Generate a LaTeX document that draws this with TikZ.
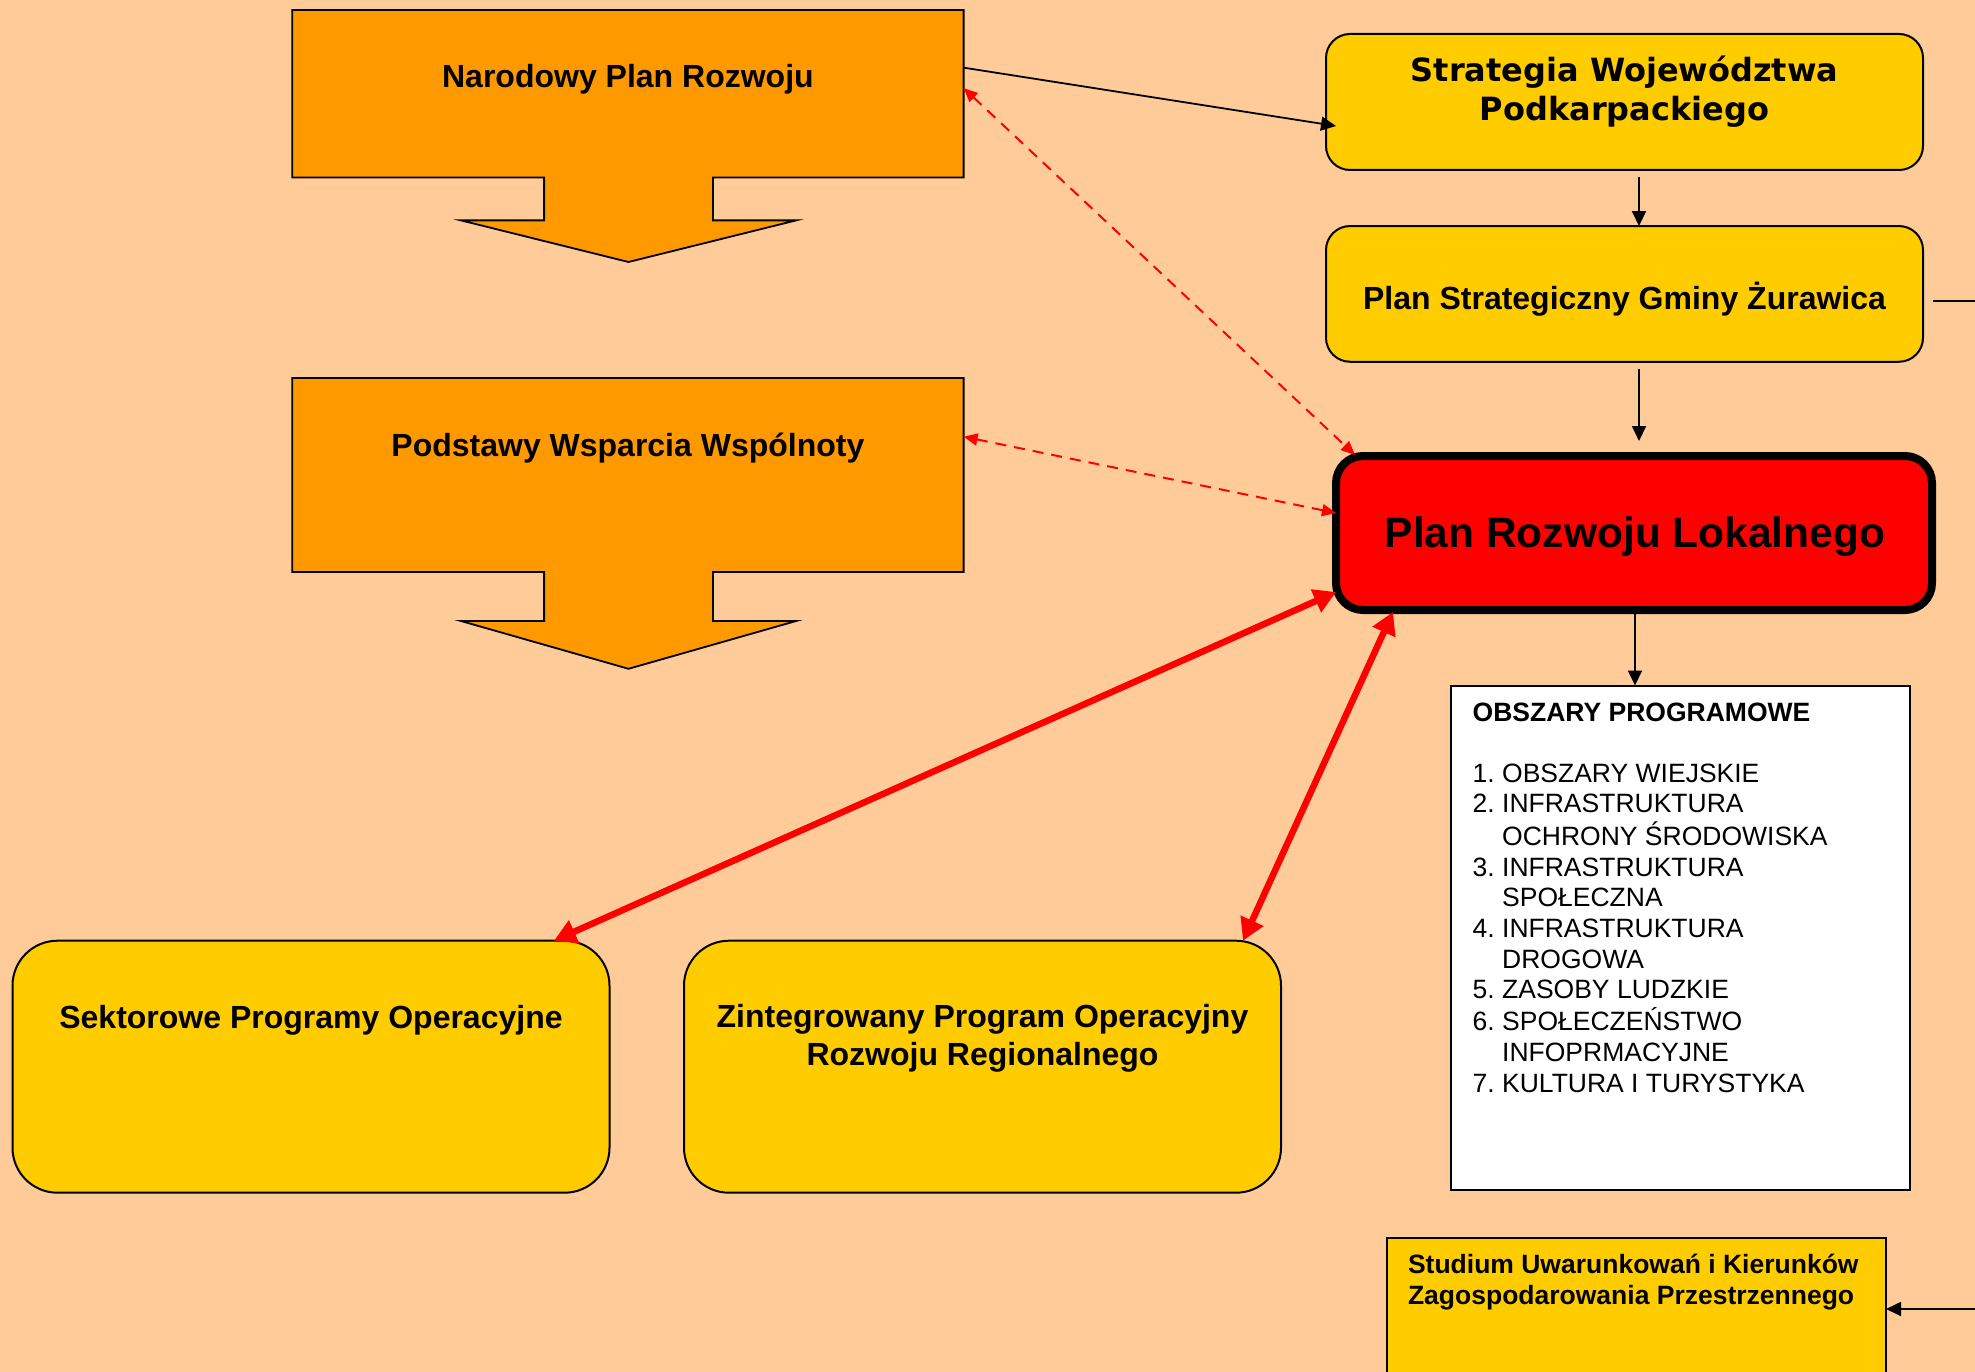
\documentclass[tikz,border=0pt]{standalone}
\usepackage{fontspec}
\setmainfont{Liberation Sans}
\newfontfamily\dvsans{DejaVu Sans}
\usetikzlibrary{arrows.meta}
\definecolor{bgc}{RGB}{255,204,153}
\definecolor{orng}{RGB}{255,153,0}
\definecolor{ylw}{RGB}{255,204,0}
\definecolor{rd}{RGB}{255,0,0}
\begin{document}
\begin{tikzpicture}[x=1pt,y=-1pt,
  box/.style={rectangle,inner sep=0pt,outer sep=0pt},
  ybox/.style={box,draw=black,fill=ylw,line width=2pt,rounded corners=24pt},
  bigy/.style={box,draw=black,fill=ylw,line width=2pt,rounded corners=45pt,minimum width=597pt,minimum height=252pt},
  callout/.style={fill=orng,draw=black,line width=1.8pt},
  blk/.style={line width=1.8pt,-{Triangle[length=15pt,width=14pt]}},
  rdash/.style={rd,line width=2pt,dash pattern=on 11pt off 8pt,{Triangle[length=14pt,width=12pt]}-{Triangle[length=14pt,width=12pt]}},
  rthick/.style={rd,line width=6.5pt,{Triangle[length=22pt,width=24pt]}-{Triangle[length=22pt,width=24pt]}},
  tb/.style={inner sep=0pt,anchor=base,font=\fontsize{32}{38.7}\selectfont\bfseries},
  ts/.style={inner sep=0pt,anchor=base west,font=\fontsize{26.5}{30.6}\selectfont},
]
\fill[bgc] (0,0) rectangle (1975,1372);
\useasboundingbox (0,0) rectangle (1975,1372);

% Narodowy Plan Rozwoju (callout)
\node[box,minimum width=671.4pt,minimum height=167.5pt] (npr) at (627.9,93.85) {};
\filldraw[callout] (npr.north west) -- (npr.north east) -- (npr.south east) -- (712.9,177.6) -- (712.9,220.4) -- (796.1,220.4) -- (628.5,262) -- (461,220.4) -- (544.1,220.4) -- (544.1,177.6) -- (npr.south west) -- cycle;
\node[tb] (nprt) at (627.9,88) {Narodowy Plan Rozwoju};

% Podstawy Wsparcia Wspolnoty (callout)
\node[box,minimum width=671.4pt,minimum height=194pt] (pws) at (627.9,475) {};
\filldraw[callout] (pws.north west) -- (pws.north east) -- (pws.south east) -- (712.9,572) -- (712.9,621) -- (796.1,621) -- (628.5,668.8) -- (461,621) -- (544.1,621) -- (544.1,572) -- (pws.south west) -- cycle;
\node[tb] (pwst) at (627.9,456) {Podstawy Wsparcia Wspólnoty};

% Strategia
\node[ybox,minimum width=597pt,minimum height=136pt] (sw) at (1624.5,102) {};
\node[inner sep=0pt,anchor=base,font=\dvsans\bfseries\fontsize{32}{38.7}\selectfont] (swt) at (1624.5,82)
  {\begin{tabular}[t]{@{}c@{}}Strategia Województwa\\Podkarpackiego\end{tabular}};

% Plan Strategiczny
\node[ybox,minimum width=597pt,minimum height=135.7pt] (ps) at (1624.5,293.9) {};
\node[tb] (pst) at (1624.5,309) {Plan Strategiczny Gminy Żurawica};

% Plan Rozwoju Lokalnego
\node[box,draw=black,fill=rd,line width=8pt,rounded corners=27pt,minimum width=596pt,minimum height=154pt] (prl) at (1634,533) {};
\node[inner sep=0pt,anchor=base,font=\fontsize{42.5}{50}\selectfont\bfseries] (prlt) at (1635,547) {Plan Rozwoju Lokalnego};

% Obszary programowe
\node[box,draw=black,fill=white,line width=2pt,minimum width=458.4pt,minimum height=504.5pt] (obs) at (1680.5,937.75) {};
\node[ts] (obst) at (1472.5,721)
  {\begin{tabular}[t]{@{}l@{\ }l@{}}
   \multicolumn{2}{@{}l@{}}{\bfseries OBSZARY PROGRAMOWE}\\
   \\
   1. & OBSZARY WIEJSKIE\\
   2. & INFRASTRUKTURA\\
      & OCHRONY ŚRODOWISKA\\
   3. & INFRASTRUKTURA\\
      & SPOŁECZNA\\
   4. & INFRASTRUKTURA\\
      & DROGOWA\\
   5. & ZASOBY LUDZKIE\\
   6. & SPOŁECZEŃSTWO\\
      & INFOPRMACYJNE\\
   7. & KULTURA I TURYSTYKA
  \end{tabular}};

% Sektorowe / Zintegrowany
\node[bigy] (spo) at (311,1066.7) {};
\node[tb] (spot) at (311,1028) {Sektorowe Programy Operacyjne};
\node[bigy] (zpo) at (982.5,1066.7) {};
\node[inner sep=0pt,anchor=base,font=\fontsize{32}{38.7}\selectfont\bfseries] (zpot) at (982.5,1027)
  {\begin{tabular}[t]{@{}c@{}}Zintegrowany Program Operacyjny\\Rozwoju Regionalnego\end{tabular}};

% Studium (cut off at the bottom)
\node[box,fill=ylw,minimum width=499pt,minimum height=134pt] (st) at (1636.5,1305) {};
\draw[line width=2pt] (st.south west) -- (st.north west) -- (st.north east) -- (st.south east);
\node[inner sep=0pt,anchor=base west,font=\fontsize{26.5}{31.5}\selectfont\bfseries] (stt) at (1407.8,1273)
  {\begin{tabular}[t]{@{}l@{}}Studium Uwarunkowań i Kierunków\\Zagospodarowania Przestrzennego\end{tabular}};

\coordinate (psout) at (1975,301);
\coordinate (stin) at (1975,1309);

% black connectors
\draw[blk] ([yshift=26.2pt]npr.east) -- ([xshift=10pt,yshift=-24pt]sw.west);
\draw[blk] ([xshift=14.5pt,yshift=-7pt]sw.south) -- ([xshift=14.5pt]ps.north);
\draw[blk] ([xshift=14.5pt,yshift=-7.3pt]ps.south) -- ([xshift=5pt,yshift=15pt]prl.north);
\draw[blk] ([xshift=1pt,yshift=-4pt]prl.south) -- ([xshift=-45.5pt]obs.north);
\draw[line width=1.8pt] ([xshift=10pt,yshift=-7pt]ps.east) -- (psout);
\draw[blk] (stin) -- (st.east |- stin);

% red dashed
\draw[rdash] ([yshift=5.8pt]npr.east) -- ([xshift=19pt,yshift=1pt]prl.north west);
\draw[rdash] ([yshift=38.3pt]pws.east) -- ([yshift=20pt]prl.west);

% red thick
\draw[rthick] ([yshift=-59pt]prl.west) -- ([xshift=243pt]spo.north);
\draw[rthick] ([xshift=-241pt,yshift=-2pt]prl.south) -- ([xshift=260.5pt]zpo.north);
\end{tikzpicture}
\end{document}
